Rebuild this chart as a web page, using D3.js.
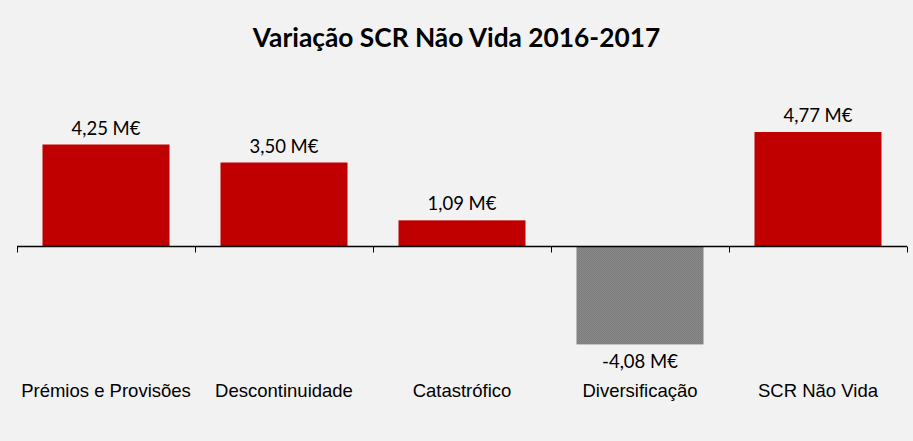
<!DOCTYPE html>
<html>
<head>
<meta charset="utf-8">
<script src="https://cdn.jsdelivr.net/npm/d3@7"></script>
<style>
  body { margin: 0; background: #f2f2f2; }
</style>
</head>
<body>
<div id="chart"></div>
<script>
// dados
var categories = ['Prémios e Provisões', 'Descontinuidade', 'Catastrófico', 'Diversificação', 'SCR Não Vida']
var values = [4.25, 3.50, 1.09, -4.08, 4.77]
var labels = ['4,25 M€', '3,50 M€', '1,09 M€', '-4,08 M€', '4,77 M€']

var width = 913
var height = 441

var svg = d3.select('#chart').append('svg').attr('width', width).attr('height', height)
svg.append('rect').attr('width', width).attr('height', height).attr('fill', '#f2f2f2')

// padrão cinzento
var defs = svg.append('defs')
var pat = defs.append('pattern').attr('id', 'grey').attr('width', 2).attr('height', 2)
  .attr('patternUnits', 'userSpaceOnUse')
pat.append('rect').attr('width', 2).attr('height', 2).attr('fill', '#8c8c8c')
pat.append('rect').attr('width', 1).attr('height', 1).attr('fill', '#7a7a7a')
pat.append('rect').attr('x', 1).attr('y', 1).attr('width', 1).attr('height', 1).attr('fill', '#7a7a7a')

// título
svg.append('text').text('Variação SCR Não Vida 2016-2017')
  .attr('x', width / 2).attr('y', 47)
  .attr('text-anchor', 'middle')
  .attr('font-family', 'Lato, sans-serif')
  .attr('font-weight', 'bold')
  .attr('font-size', 26.3)
  .attr('fill', '#000')

var x = d3.scaleBand().domain(categories).range([17, 907])
  .paddingInner(0.2865).paddingOuter(0.1433)

var y = d3.scaleLinear().domain([-5, 5]).range([366.5, 126.5])

// barras
svg.selectAll('rect.bar').data(values).enter().append('rect')
  .attr('class', 'bar')
  .attr('x', function(d, i) { return x(categories[i]) })
  .attr('y', function(d) { return y(Math.max(0, d)) })
  .attr('width', x.bandwidth())
  .attr('height', function(d) { return Math.abs(y(d) - y(0)) })
  .attr('fill', function(d) { return d < 0 ? 'url(#grey)' : '#c00000' })

// eixo
var step = x.step()
var ticks = d3.range(categories.length + 1).map(function(i) { return 17 + i * step })
var axis = svg.append('g')
axis.append('line').attr('x1', 17).attr('x2', 907).attr('y1', y(0)).attr('y2', y(0))
  .attr('stroke', '#000').attr('stroke-width', 1.3)
axis.selectAll('line.tick').data(ticks).enter().append('line')
  .attr('class', 'tick')
  .attr('x1', function(d) { return Math.round(d) + 0.5 }).attr('x2', function(d) { return Math.round(d) + 0.5 })
  .attr('y1', y(0)).attr('y2', y(0) + 6)
  .attr('stroke', '#000').attr('stroke-width', 1)

// rótulos de valores
svg.selectAll('text.val').data(values).enter().append('text')
  .attr('class', 'val')
  .text(function(d, i) { return labels[i] })
  .attr('x', function(d, i) { return x(categories[i]) + x.bandwidth() / 2 })
  .attr('y', function(d) { return d < 0 ? y(d) + 24 : y(d) - 10 })
  .attr('text-anchor', 'middle')
  .attr('font-family', 'Lato, sans-serif')
  .attr('font-size', 18.5)
  .attr('fill', '#000')

// categorias
svg.selectAll('text.cat').data(categories).enter().append('text')
  .attr('class', 'cat')
  .text(function(d) { return d })
  .attr('x', function(d) { return x(d) + x.bandwidth() / 2 })
  .attr('y', 397)
  .attr('text-anchor', 'middle')
  .attr('font-family', 'Liberation Sans, Arial, sans-serif')
  .attr('font-size', 18.5)
  .attr('fill', '#000')
</script>
</body>
</html>
